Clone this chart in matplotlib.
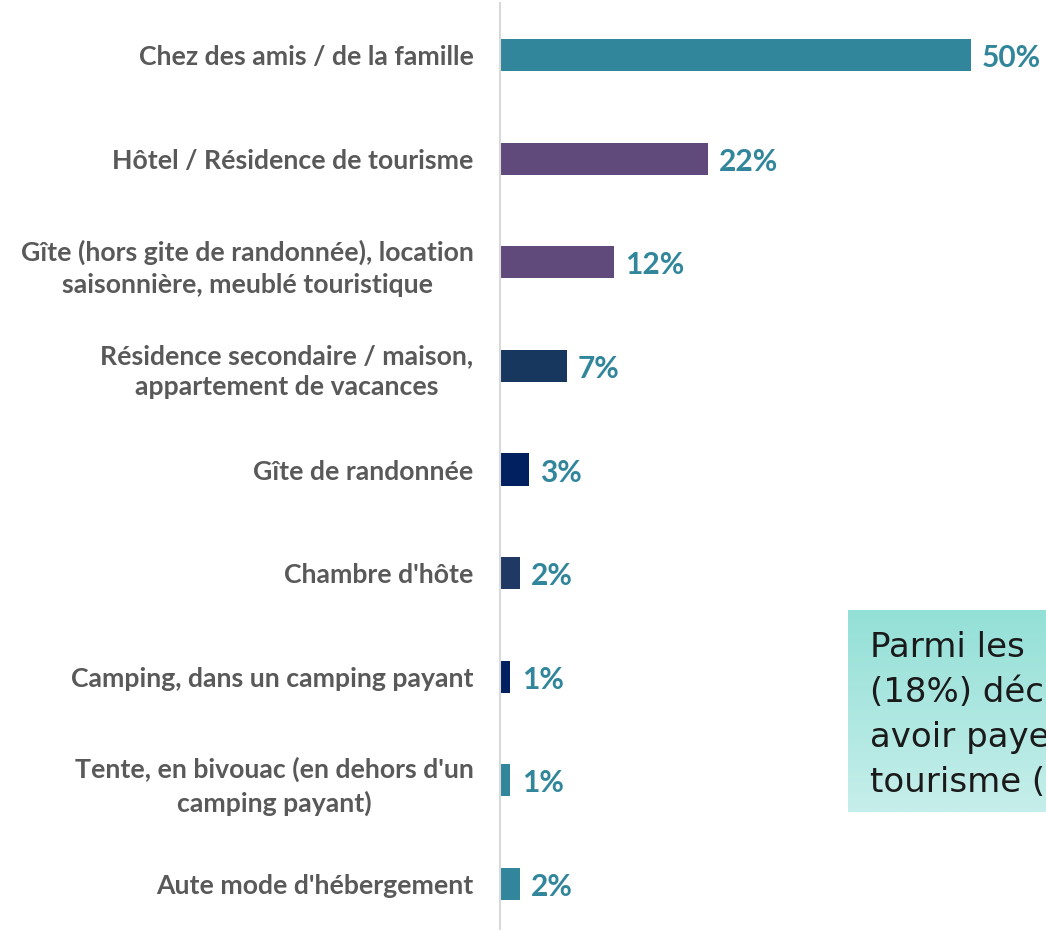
import matplotlib
matplotlib.use("Agg")
import matplotlib.pyplot as plt
import numpy as np

# données
categories = [
    "Chez des amis / de la famille",
    "Hôtel / Résidence de tourisme",
    "Gîte (hors gite de randonnée), location\nsaisonnière, meublé touristique",
    "Résidence secondaire / maison,\nappartement de vacances",
    "Gîte de randonnée",
    "Chambre d'hôte",
    "Camping, dans un camping payant",
    "Tente, en bivouac (en dehors d'un\ncamping payant)",
    "Aute mode d'hébergement",
]
values = [50, 22, 12, 7, 3, 2, 1, 1, 2]
bar_colors = ["#31869B", "#604A7B", "#604A7B", "#17375E", "#002060",
              "#1F3864", "#002060", "#31869B", "#31869B"]
note_lines = ["Parmi les", "(18%) déc", "avoir paye", "tourisme ("]

W, H = 1046, 930
fig = plt.figure(figsize=(W / 100, H / 100), dpi=100)

# axe principal : la ligne verticale est à x=500 px
ax = fig.add_axes([500 / W, 0, 1 - 500 / W, 1 - 3 / H])
y = np.arange(len(categories))
ax.barh(y, values, height=0.31, color=bar_colors)
ax.set_ylim(8.444, -0.502)
ax.set_xlim(-0.1, 58.0)

for yi, v in zip(y, values):
    ax.text(v + 1.2, yi + 0.03, f"{v}%", va="center", ha="left", fontsize=21.5,
            fontweight="bold", color="#31869B", family="Lato")

ax.set_yticks(y)
ax.set_yticklabels(categories, fontsize=19.2, fontweight="bold",
                   color="#595959", family="Lato", multialignment="center",
                   linespacing=1.38)
ax.tick_params(axis="y", length=0, pad=19)
ax.set_xticks([])
for s in ["top", "right", "bottom"]:
    ax.spines[s].set_visible(False)
ax.spines["left"].set_color("#D9D9D9")
ax.spines["left"].set_linewidth(1.5)

# encadré avec dégradé (coupé par le bord droit, comme sur l'original)
bx = fig.add_axes([848 / W, (H - 812) / H, (W - 848) / W, 202 / H])
grad = np.linspace(0, 1, 100).reshape(-1, 1)
c_top = np.array([0x93, 0xE0, 0xD7]) / 255
c_bot = np.array([0xC6, 0xEE, 0xEA]) / 255
img = c_top[None, None, :] * (1 - grad[:, :, None]) + c_bot[None, None, :] * grad[:, :, None]
bx.imshow(img, aspect="auto", extent=[0, 1, 0, 1])
bx.set_xlim(0, 1)
bx.set_ylim(0, 1)
bx.axis("off")
for i, line in enumerate(note_lines):
    bx.text(22 / 198, 1 - (47 + 45 * i) / 202, line, fontsize=24.5,
            color="#1a1a1a", family="DejaVu Sans", va="baseline", ha="left")

fig.savefig("out.png", dpi=100)
